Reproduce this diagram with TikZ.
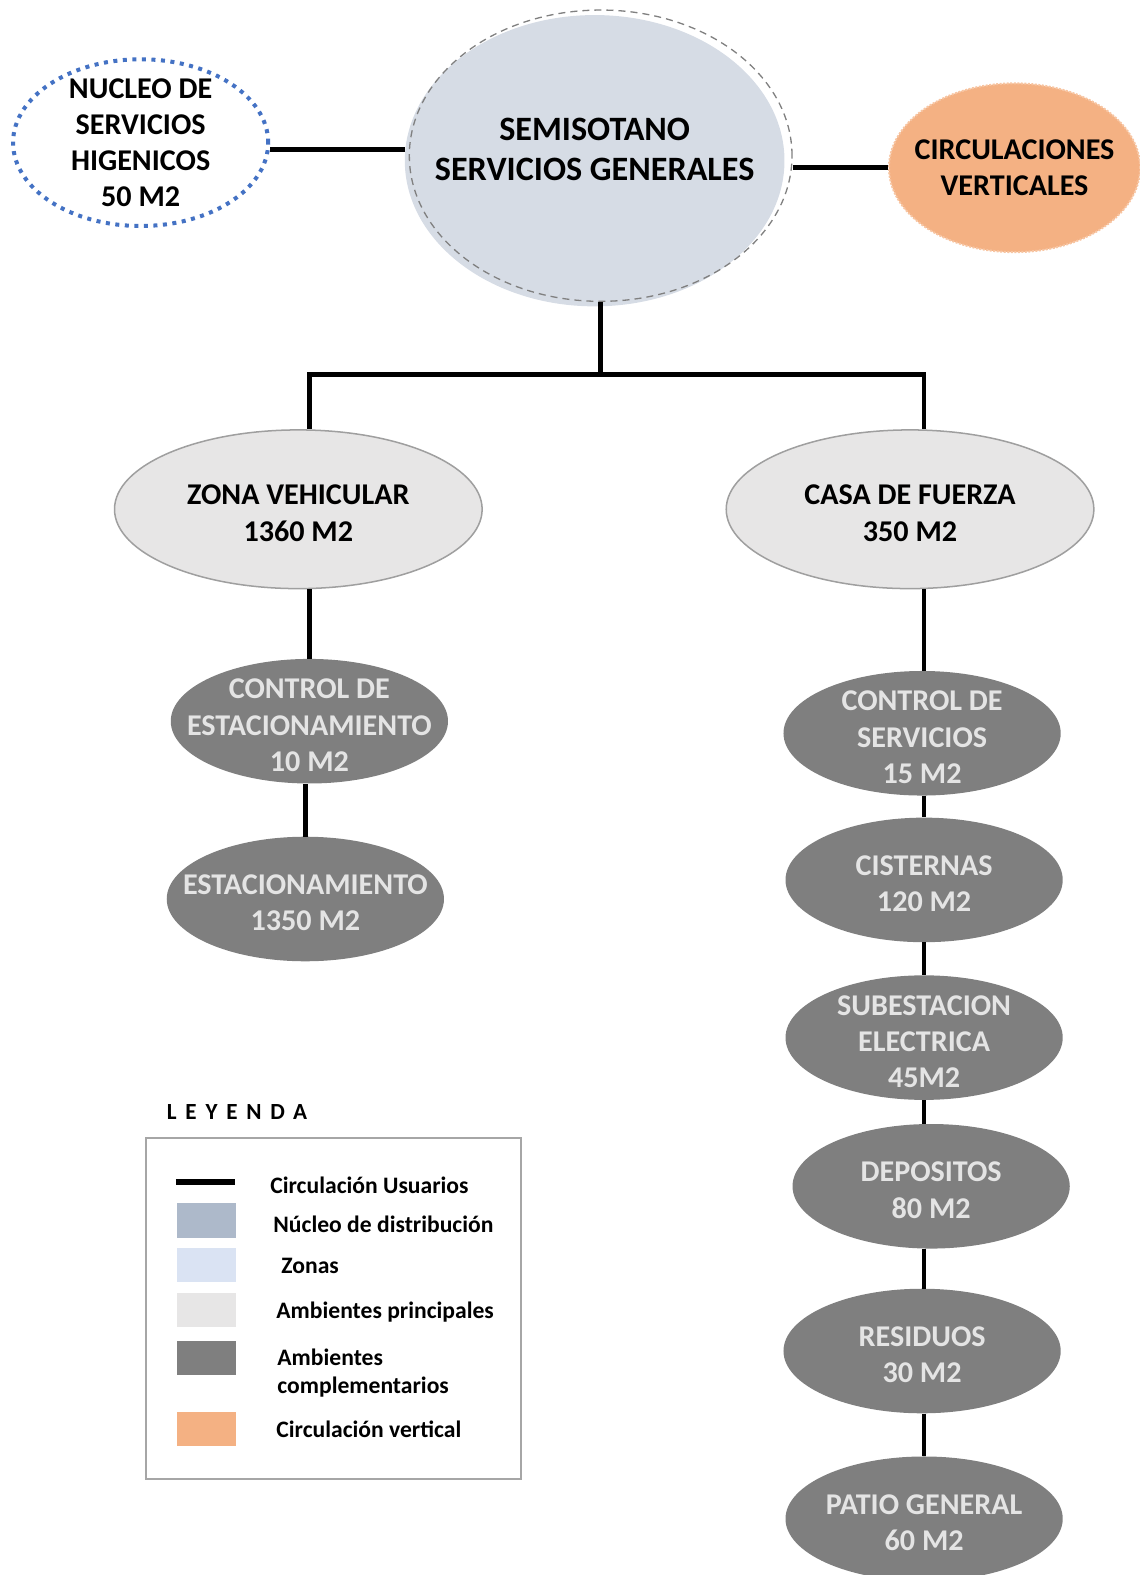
\documentclass[tikz,border=0pt]{standalone}
\usepackage{fontspec}
\setmainfont{Carlito}
\usepackage{tikz}
\usetikzlibrary{shapes.geometric, positioning}
\definecolor{corefill}{HTML}{D6DCE5}
\definecolor{corekey}{HTML}{ADB9CA}
\definecolor{zonas}{HTML}{DAE3F3}
\definecolor{ambpri}{HTML}{E7E6E6}
\definecolor{ambcomp}{HTML}{7F7F7F}
\definecolor{comptext}{HTML}{E4E4E4}
\definecolor{circvert}{HTML}{F4B183}
\definecolor{dotblue}{HTML}{4472C4}
\tikzset{
  boldtext/.style={align=center, font=\bfseries\fontsize{30}{36}\selectfont},
  zone/.style={ellipse, inner sep=0pt, label={[boldtext]center:#1}},
  principal/.style={ellipse, inner sep=0pt, fill=ambpri, draw=gray!75, line width=1.5pt,
    minimum width=366pt, minimum height=158pt, label={[boldtext, yshift=-4pt]center:#1}},
  complem/.style={ellipse, inner sep=0pt, fill=ambcomp,
    minimum width=276pt, minimum height=124pt, label={[boldtext, yshift=-4pt, text=comptext]center:#1}},
  link/.style={line width=4.5pt},
  keytext/.style={anchor=west, align=left, inner sep=0pt, font=\bfseries\fontsize{23.5}{28}\selectfont}
}

\begin{document}
\begin{tikzpicture}[x=1pt, y=-1pt]
    \useasboundingbox (0,0) rectangle (1134,1568);
    % nucleo central
    \node[ellipse, inner sep=0pt, fill=corefill, minimum width=378pt, minimum height=290pt,
        label={[boldtext, yshift=11pt, font=\bfseries\fontsize{34}{40}\selectfont]center:SEMISOTANO\\SERVICIOS GENERALES}]
        (core) at (592,160) {};
    \node[ellipse, inner sep=0pt, draw=gray, line width=1.3pt, dash pattern=on 7pt off 5pt,
        minimum width=381pt, minimum height=290pt] (coreline) at (598,155) {};
    \node[zone={NUCLEO DE\\SERVICIOS\\HIGENICOS\\50 M2}, fill=white, draw=dotblue, line width=4pt,
        dash pattern=on 4pt off 5.5pt, minimum width=254pt, minimum height=166pt] (nucleo) at (140,142) {};
    \node[zone={CIRCULACIONES\\VERTICALES}, fill=circvert, draw=circvert!75!white, line width=2pt,
        dash pattern=on 2pt off 1.5pt, minimum width=250pt, minimum height=168pt] (circ) at (1010,167) {};

    % zonas
    \node[principal={ZONA VEHICULAR\\1360 M2}] (zona) at (297,507) {};
    \node[principal={CASA DE FUERZA\\350 M2}] (casa) at (906,507) {};

    % ambientes complementarios
    \node[complem={CONTROL DE\\ESTACIONAMIENTO\\10 M2}] (ctrlest) at (308,718) {};
    \node[complem={ESTACIONAMIENTO\\1350 M2}] (estac) at (304,895) {};
    \node[complem={CONTROL DE\\SERVICIOS\\15 M2}] (ctrlserv) at (918,730) {};
    \node[complem={CISTERNAS\\120 M2}] (cisternas) at (920,876) {};
    \node[complem={SUBESTACION\\ELECTRICA\\45M2}] (subest) at (920,1033) {};
    \node[complem={DEPOSITOS\\80 M2}] (depositos) at (927,1181) {};
    \node[complem={RESIDUOS\\30 M2}] (residuos) at (918,1345) {};
    \node[complem={PATIO GENERAL\\60 M2}] (patio) at (920,1512) {};

    % circulacion
    \draw[link] ([yshift=-7pt]nucleo.east) -- ([yshift=-7pt]nucleo.east -| core.west);
    \draw[link] (circ.west) -- (circ.west -| coreline.east);
    \coordinate (split) at (598,373);
    \coordinate (jl) at (308,373);
    \coordinate (jr) at (920,373);
    \draw[link] (coreline.south) -- (split);
    \draw[link] (jl |- zona.north) -- (jl) -- (jr) -- (jr |- casa.north);
    \draw[link] (ctrlest.north) -- (ctrlest.north |- zona.south);
    \draw[link] (estac.north) -- (estac.north |- ctrlest.south);
    \foreach \a/\b in {casa/ctrlserv, ctrlserv/cisternas, cisternas/subest,
        subest/depositos, depositos/residuos, residuos/patio}
    {
        \draw[link] (jr |- \a.south) -- (jr |- \b.north);
    }

    % leyenda
    \node[anchor=west, inner sep=0pt, font=\bfseries\fontsize{23}{26}\selectfont\addfontfeatures{LetterSpace=38}]
        (leyenda) at (166,1107) {LEYENDA};
    \draw[gray!70, line width=2pt] (145,1133) rectangle (519,1472);
    \draw[line width=6pt] (175,1177) -- (234,1177);
    \foreach \y/\c in {1198/corekey, 1242/zonas, 1287/ambpri, 1335/ambcomp, 1406/circvert}
    {
        \fill[\c] (176,\y) rectangle ++(59,34);
    }
    \node[keytext] (k1) at (269,1180) {Circulación Usuarios};
    \node[keytext] (k2) at (272,1219) {Núcleo de distribución};
    \node[keytext] (k3) at (280,1260) {Zonas};
    \node[keytext] (k4) at (275,1306) {Ambientes principales};
    \node[keytext] (k5) at (276,1367) {Ambientes\\complementarios};
    \node[keytext] (k6) at (275,1423) {Circulación vertical};
\end{tikzpicture}
\end{document}
